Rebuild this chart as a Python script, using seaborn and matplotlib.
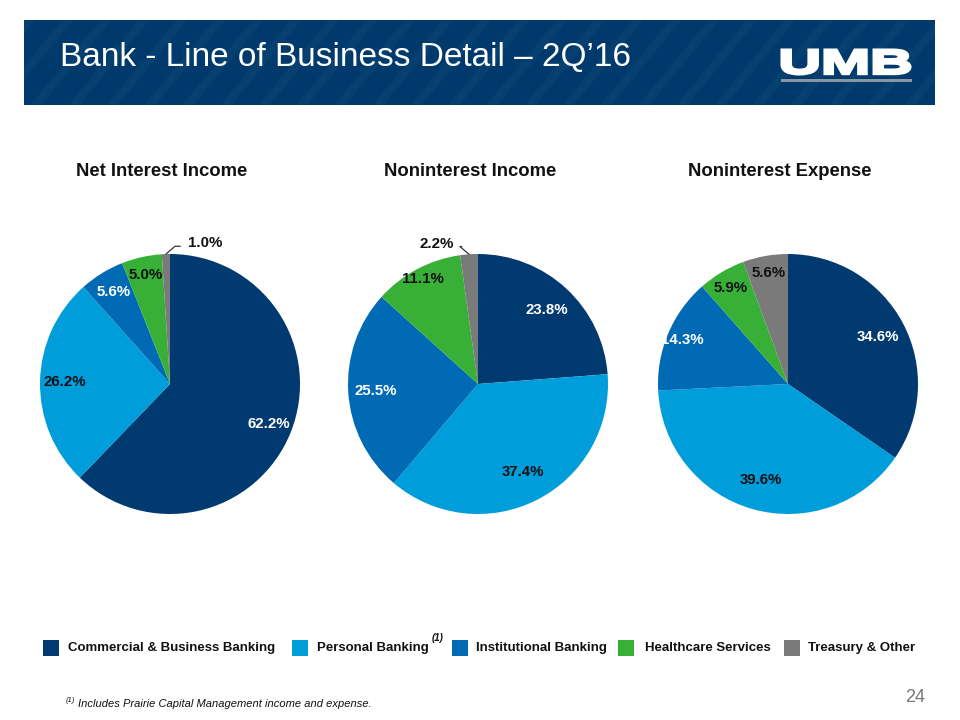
import numpy as np
import matplotlib
matplotlib.use("Agg")
import matplotlib.pyplot as plt
from matplotlib.patches import Rectangle, PathPatch
from matplotlib.textpath import TextPath
from matplotlib.font_manager import FontProperties
from matplotlib.transforms import Affine2D
import seaborn as sns

# data
segments = ["Commercial & Business Banking", "Personal Banking", "Institutional Banking",
            "Healthcare Services", "Treasury & Other"]
chart_titles = ["Net Interest Income", "Noninterest Income", "Noninterest Expense"]
net_interest_income = [62.2, 26.2, 5.6, 5.0, 1.0]
noninterest_income = [23.8, 37.4, 25.5, 11.1, 2.2]
noninterest_expense = [34.6, 39.6, 14.3, 5.9, 5.6]

colors = ["#003A70", "#009DDB", "#006AB5", "#38B037", "#7A7A7A"]
text_colors = ["white", "#111111", "white", "#111111", "#111111"]
NAVY = "#003A6C"

sns.set_theme(style="white")
plt.rcParams["font.family"] = ["Liberation Sans", "DejaVu Sans"]

W, H = 960, 720
fig = plt.figure(figsize=(9.6, 7.2), dpi=100)


def fx(x):
    return x / W


def fy(y):
    return 1 - y / H


# header banner with faint diagonal stripes
banner = Rectangle((fx(24), fy(105)), fx(935 - 24), (105 - 20) / H,
                   transform=fig.transFigure, facecolor=NAVY, edgecolor="none", zorder=2)
fig.add_artist(banner)
for x0 in range(-40, 960, 38):
    ln = plt.Line2D([fx(x0), fx(x0 + 70)], [fy(105), fy(20)], transform=fig.transFigure,
                    color="#0d4677", lw=6, alpha=0.5, zorder=2.1)
    ln.set_clip_path(banner)
    fig.add_artist(ln)

fig.text(fx(60), fy(57), "Bank - Line of Business Detail \u2013 2Q\u201916", color="white",
         fontsize=24, va="center", ha="left", zorder=3)

# UMB logo
tp = TextPath((0, 0), "UMB", size=1, prop=FontProperties(family="Liberation Sans", weight="bold"))
bb = tp.get_extents()
sx = 128 / bb.width
sy = 24 / bb.height
tr = Affine2D().translate(-bb.x0, -bb.y0).scale(sx / W, sy / H).translate(fx(782), fy(74))
fig.add_artist(PathPatch(tp, transform=tr + fig.transFigure, facecolor="white",
                         edgecolor="white", lw=2.2, zorder=3))
fig.add_artist(Rectangle((fx(781), fy(82)), fx(131), 3 / H, transform=fig.transFigure,
                         facecolor="#8C96A3", edgecolor="none", zorder=3))

# pies
centers = [170, 478, 788]
radius = 130
cy = 384
datasets = [net_interest_income, noninterest_income, noninterest_expense]
label_dist = [
    [0.82, 0.81, 0.83, 0.86, None],
    [0.78, 0.76, 0.79, 0.91, None],
    [0.78, 0.77, 0.88, 0.86, 0.87],
]
# outside labels: (segment index, label x, label y in data units)
outside = [(4, 0.27, 1.085), (4, -0.315, 1.077), None]
label_size = 10.8

for i, (cx, vals) in enumerate(zip(centers, datasets)):
    ax = fig.add_axes([fx(cx - radius), fy(cy + radius), 2 * radius / W, 2 * radius / H])
    wedges, _ = ax.pie(vals, colors=colors, startangle=90, counterclock=False,
                       wedgeprops=dict(linewidth=0))
    ax.set_xlim(-1, 1)
    ax.set_ylim(-1, 1)
    ax.set_aspect("equal")
    ax.axis("off")
    for j, (w, v) in enumerate(zip(wedges, vals)):
        d = label_dist[i][j]
        if d is None:
            continue
        ang = np.deg2rad((w.theta1 + w.theta2) / 2)
        ax.text(d * np.cos(ang), d * np.sin(ang), f"{v:.1f}%", ha="center", va="center",
                fontsize=label_size, fontweight="bold", color=text_colors[j])
    if outside[i] is not None:
        j, lx, ly = outside[i]
        w = wedges[j]
        ang = np.deg2rad((w.theta1 + w.theta2) / 2)
        ex, ey = np.cos(ang), np.sin(ang)
        ax.text(lx, ly, f"{vals[j]:.1f}%", ha="center", va="center", fontsize=label_size,
                fontweight="bold", color="#111111", clip_on=False)
        side = 1 if lx > ex else -1
        ax.plot([ex, ex + side * 0.07, lx - side * 0.19], [ey, ey + 0.06, ey + 0.06],
                color="#333333", lw=0.9, clip_on=False)
    fig.text(fx(cx - 8), fy(172), chart_titles[i], ha="center", va="center",
             fontsize=13.3, fontweight="bold", color="#111111")

# legend
sq_x = [43, 292, 452, 618, 784]
tx_x = [68, 317, 476, 645, 808]
for k, name in enumerate(segments):
    fig.add_artist(Rectangle((fx(sq_x[k]), fy(656)), fx(16), 16 / H, transform=fig.transFigure,
                             facecolor=colors[k], edgecolor="none"))
    fig.text(fx(tx_x[k]), fy(648), name, ha="left", va="center", fontsize=9.5,
             fontweight="bold", color="#111111")
fig.text(fx(432), fy(638), "(1)", ha="left", va="center", fontsize=7, fontweight="bold",
         style="italic", color="#111111")

# footnote and page number
fig.text(fx(66), fy(700), "(1)", ha="left", va="center", fontsize=5.5, style="italic",
         color="#111111")
fig.text(fx(78), fy(704), "Includes Prairie Capital Management income and expense.",
         ha="left", va="center", fontsize=8, style="italic", color="#111111")
fig.text(fx(925), fy(697), "24", ha="right", va="center", fontsize=13, color="#777777")

fig.savefig("out.png", dpi=100)
